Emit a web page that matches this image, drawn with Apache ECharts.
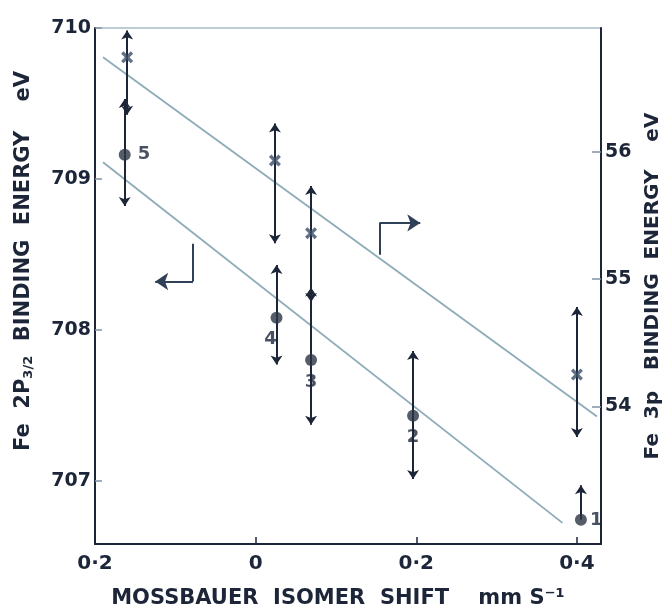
<!DOCTYPE html>
<html>
<head>
<meta charset="utf-8">
<script src="https://cdn.jsdelivr.net/npm/echarts@6/dist/echarts.min.js"></script>
<style>
  html, body { margin: 0; padding: 0; background: #fff; }
  #chart { width: 672px; height: 614px; }
</style>
</head>
<body>
<div id="chart"></div>
<script>
// Fe 2p3/2 points (left axis), one per sample
const ids2p = ['1', '2', '3', '4', '5'];
const shift2p = [0.405, 0.196, 0.069, 0.026, -0.163];
const be2p = [706.74, 707.43, 707.80, 708.08, 709.16];
const be2pLow = [706.74, 707.01, 707.37, 707.77, 708.82];
const be2pHigh = [706.97, 707.86, 708.28, 708.43, 709.53];

// Fe 3p points (right axis), sample 2 has none
const ids3p = ['1', '3', '4', '5'];
const shift3p = [0.400, 0.069, 0.024, -0.160];
const be3p = [54.25, 55.36, 55.93, 56.74];
const be3pLow = [53.76, 54.82, 55.28, 56.29];
const be3pHigh = [54.78, 55.73, 56.22, 56.95];

// fitted lines
const fit2pX = [-0.19, 0.382];
const fit2pY = [709.11, 706.72];
const fit3pX = [-0.19, 0.425];
const fit3pY = [56.74, 53.92];

// "which axis" pointers: stem start, corner, arrow tip
const arrow2pX = [-0.078, -0.078, -0.125];
const arrow2pY = [708.57, 708.32, 708.32];
const arrow3pX = [0.154, 0.154, 0.205];
const arrow3pY = [55.19, 55.44, 55.44];

const xTicks = [-0.2, 0, 0.2, 0.4];
const leftTicks = [707, 708, 709, 710];
const rightTicks = [54, 55, 56];

const ink = '#1c2638';
const fitColor = '#8eabb9';
const font = 'DejaVu Sans';

function zip(xs, ys) { return xs.map((x, i) => [x, ys[i]]); }

function errSegments(xs, mid, lo, hi) {
  const segs = [];
  xs.forEach((x, i) => {
    if (lo[i] !== mid[i]) segs.push({ coords: [[x, mid[i]], [x, lo[i]]] });
    if (hi[i] !== mid[i]) segs.push({ coords: [[x, mid[i]], [x, hi[i]]] });
  });
  return segs;
}

// stem = first two points, head = last two points
function stem(xs, ys) { return [{ coords: [[xs[0], ys[0]], [xs[1], ys[1]]] }]; }
function head(xs, ys) { return [{ coords: [[xs[1], ys[1]], [xs[2], ys[2]]] }]; }

// where the sample numbers sit relative to the dots
const labelPlace = {
  '1': { position: 'right', offset: [-2, 0] },
  '2': { position: 'bottom', offset: [0, 2] },
  '3': { position: 'bottom', offset: [0, 2] },
  '4': { position: 'bottom', offset: [-6, 2] },
  '5': { position: 'right', offset: [2, 0] }
};

const pointerStyle = { color: '#2f4157', width: 2, opacity: 1 };

const chart = echarts.init(document.getElementById('chart'));

chart.setOption({
  backgroundColor: '#ffffff',
  animation: false,
  grid: {
    left: 95, right: 71, top: 28, bottom: 66,
    show: true, borderColor: '#a9bcc6', borderWidth: 1.5
  },
  xAxis: {
    type: 'value',
    min: -0.2, max: 0.43,
    name: 'MOSSBAUER  ISOMER  SHIFT    mm S\u207B\u00B9',
    nameLocation: 'middle',
    nameGap: 44,
    nameTextStyle: { fontFamily: font, fontSize: 21, color: ink, fontWeight: 'bold', padding: [0, 20, 0, 0] },
    axisLine: { show: true, onZero: false, lineStyle: { color: ink, width: 2 } },
    axisTick: { show: true, inside: true, length: 7, customValues: [0, 0.2, 0.4], lineStyle: { color: ink, width: 1.5 } },
    axisLabel: {
      customValues: xTicks,
      fontFamily: font, fontSize: 20, color: ink, margin: 10, fontWeight: 'bold',
      formatter: v => v === 0 ? '0' : Math.abs(v).toFixed(1).replace('.', '\u00B7')
    },
    splitLine: { show: false }
  },
  yAxis: [
    {
      type: 'value',
      min: 706.58, max: 710,
      position: 'left',
      name: 'Fe  2P{sub|3/2}  BINDING  ENERGY    eV',
      nameLocation: 'middle',
      nameGap: 60,
      nameTextStyle: {
        fontFamily: font, fontSize: 21, color: ink, fontWeight: 'bold',
        padding: [0, 0, 0, 50],
        rich: { sub: { fontFamily: font, fontSize: 13, color: ink, fontWeight: 'bold', verticalAlign: 'bottom', padding: [9, 0, 0, 0] } }
      },
      axisLine: { show: true, onZero: false, lineStyle: { color: ink, width: 2 } },
      axisTick: { show: true, inside: true, length: 7, customValues: leftTicks, lineStyle: { color: '#7f93a3', width: 1.5 } },
      axisLabel: { customValues: leftTicks, fontFamily: font, fontSize: 19, color: ink, margin: 4, fontWeight: 'bold' },
      splitLine: { show: false }
    },
    {
      type: 'value',
      min: 52.92, max: 56.97,
      position: 'right',
      name: 'Fe  3p   BINDING  ENERGY    eV',
      nameLocation: 'middle',
      nameRotate: 90,
      nameGap: 42,
      nameTextStyle: { fontFamily: font, fontSize: 20, color: ink, fontWeight: 'bold' },
      axisLine: { show: true, onZero: false, lineStyle: { color: ink, width: 2 } },
      axisTick: { show: true, inside: true, length: 9, customValues: rightTicks, lineStyle: { color: '#7f93a3', width: 1.5 } },
      axisLabel: { customValues: rightTicks, fontFamily: font, fontSize: 19, color: ink, margin: 4, fontWeight: 'bold' },
      splitLine: { show: false }
    }
  ],
  series: [
    {
      name: 'fit 2p', type: 'line', yAxisIndex: 0,
      data: zip(fit2pX, fit2pY), showSymbol: false,
      lineStyle: { color: fitColor, width: 1.8 }, z: 1
    },
    {
      name: 'fit 3p', type: 'line', yAxisIndex: 1,
      data: zip(fit3pX, fit3pY), showSymbol: false,
      lineStyle: { color: fitColor, width: 1.8 }, z: 1
    },
    {
      name: 'pointer 2p stem', type: 'lines', coordinateSystem: 'cartesian2d', yAxisIndex: 0,
      symbol: 'none', data: stem(arrow2pX, arrow2pY), lineStyle: pointerStyle, z: 2
    },
    {
      name: 'pointer 2p head', type: 'lines', coordinateSystem: 'cartesian2d', yAxisIndex: 0,
      symbol: ['none', 'arrow'], symbolSize: 13, data: head(arrow2pX, arrow2pY),
      lineStyle: pointerStyle, z: 2
    },
    {
      name: 'pointer 3p stem', type: 'lines', coordinateSystem: 'cartesian2d', yAxisIndex: 1,
      symbol: 'none', data: stem(arrow3pX, arrow3pY), lineStyle: pointerStyle, z: 2
    },
    {
      name: 'pointer 3p head', type: 'lines', coordinateSystem: 'cartesian2d', yAxisIndex: 1,
      symbol: ['none', 'arrow'], symbolSize: 13, data: head(arrow3pX, arrow3pY),
      lineStyle: pointerStyle, z: 2
    },
    {
      name: 'error 2p', type: 'lines', coordinateSystem: 'cartesian2d', yAxisIndex: 0,
      symbol: ['none', 'arrow'], symbolSize: 9,
      data: errSegments(shift2p, be2p, be2pLow, be2pHigh),
      lineStyle: { color: ink, width: 2, opacity: 1 }, z: 3
    },
    {
      name: 'error 3p', type: 'lines', coordinateSystem: 'cartesian2d', yAxisIndex: 1,
      symbol: ['none', 'arrow'], symbolSize: 9,
      data: errSegments(shift3p, be3p, be3pLow, be3pHigh),
      lineStyle: { color: ink, width: 2, opacity: 1 }, z: 3
    },
    {
      name: 'Fe 2p3/2', type: 'scatter', yAxisIndex: 0,
      symbol: 'circle', symbolSize: 12,
      itemStyle: { color: '#2b3444' },
      data: shift2p.map((x, i) => ({
        value: [x, be2p[i]],
        label: Object.assign({
          show: true, formatter: ids2p[i],
          fontFamily: font, fontSize: 18, fontWeight: 'bold', color: ink
        }, labelPlace[ids2p[i]])
      })),
      z: 4
    },
    {
      name: 'Fe 3p', type: 'scatter', yAxisIndex: 1,
      symbol: 'path://M0,2 L2,0 L5,3 L8,0 L10,2 L7,5 L10,8 L8,10 L5,7 L2,10 L0,8 L3,5 Z',
      symbolSize: 12,
      itemStyle: { color: '#3a4c66' },
      data: zip(shift3p, be3p),
      z: 4
    }
  ]
});
</script>
</body>
</html>
